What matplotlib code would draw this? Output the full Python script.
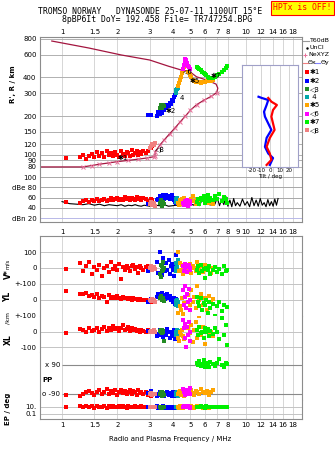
import matplotlib.pyplot as plt
from matplotlib.ticker import NullLocator

plt.rcParams['font.family'] = ['DejaVu Sans']
plt.rcParams['font.size'] = 5

W, H = 335, 451
F_LO, F_HI = 0.759, 20.25

# ---- axes ticks ----
freq_ticks = [1, 1.5, 2, 3, 4, 5, 6, 7, 8, 10, 12, 14, 16, 18]
mid_ticks = [1, 1.5, 2, 3, 4, 5, 6, 7, 8, 9, 10, 12, 14, 16, 18]
r_ticks = [80, 90, 100, 120, 150, 200, 300, 400, 600, 800]
db_ticks = [20, 40, 60, 80, 100]
db_labels = ['dBn 20', '40', '60', 'dBe 80', '100']
tilt_ticks = [-20, -10, 0, 10, 20]

# ---- plasma frequency profile (NeXYZ) ----
prof_f = [0.76, 1.30, 1.45, 1.6, 1.8, 2.0, 2.3, 2.6, 2.9, 3.15, 3.2, 3.22, 3.4, 3.6,
          3.85, 4.1, 4.4, 4.7, 5.0, 5.4, 5.9, 6.5, 6.95, 7.05, 6.9, 6.2, 5.4, 4.95,
          4.45, 3.8, 3.0, 2.1, 1.4, 0.88]
prof_h = [80, 80, 82, 84, 86, 88, 90, 92, 94, 96, 98, 105, 118, 130,
          145, 160, 180, 200, 222, 245, 265, 285, 305, 330, 355, 380, 405, 445,
          458, 490, 548, 600, 680, 771]

# ---- tilt profiles ----
tiltx_h = [277, 259, 244, 223, 198, 175, 156, 135, 115, 102, 91, 83]
tiltx = [-2.4, 1, 7, 2.8, 1, 2.8, 4.5, -0.7, -4.2, -0.7, 1, -4.2]
tilty_h = [283, 277, 267, 244, 216, 198, 175, 156, 135, 115, 102, 94, 83]
tilty = [-13, -9.5, -2.4, -4.2, -7, -6, -2.4, 1, -4.2, -6, -2.4, 2.8, -0.7]

# ---- noise level ----
noise_f = [1.0, 1.05, 1.1, 1.2, 1.3, 1.4, 1.5, 1.6, 1.7, 1.8,
           1.9, 2.0, 2.1, 2.2, 2.3, 2.4, 2.5, 2.6, 2.7, 2.8,
           2.9, 3.0, 3.2, 3.4, 3.6, 3.8, 4.0, 4.2, 4.4, 4.6,
           4.8, 5.0, 5.2, 5.4, 5.6, 5.8, 6.0, 6.2, 6.4, 6.6,
           6.8, 7.0, 7.2, 7.4, 7.6, 7.8, 8.0, 8.2, 8.4, 8.6,
           8.8, 9.0, 9.3, 9.6, 9.9, 10.2, 10.5, 10.8, 11.1, 11.4,
           11.7, 12.0, 12.3, 12.6, 12.9, 13.2, 13.5, 13.8, 14.1, 14.4,
           14.7, 15.0]
noise_db = [52, 50, 48, 47, 46, 48, 45, 47, 44, 46,
            45, 44, 46, 43, 45, 44, 46, 44, 43, 45,
            44, 43, 45, 44, 46, 43, 44, 45, 43, 46,
            44, 48, 45, 52, 44, 56, 46, 58, 45, 54,
            47, 60, 44, 56, 46, 62, 43, 55, 42, 58,
            44, 50, 43, 57, 45, 52, 42, 60, 44, 55,
            43, 58, 45, 50, 42, 56, 44, 52, 43, 57,
            45, 58]

# ---- echo classes: freq, height, amplitude, V*, YL, XL, PP, EP ----
red_f = [1.05, 1.25, 1.3, 1.35, 1.4, 1.45, 1.5, 1.55, 1.6, 1.65, 1.7, 1.75, 1.8, 1.85, 1.9, 1.95, 2.0, 2.05,
         2.1, 2.15, 2.2, 2.25, 2.3, 2.35, 2.4, 2.45, 2.5, 2.55, 2.6, 2.65, 2.7, 2.75, 2.85, 2.95, 3.05, 3.1]
red_h = [94, 95, 99, 93, 97, 101, 96, 104, 98, 102, 95, 106, 99, 103, 97, 105, 100, 96,
         107, 101, 98, 104, 102, 97, 108, 100, 103, 106, 99, 104, 101, 107, 103, 106, 112, 116]
red_a = [52, 50, 53, 55, 51, 56, 54, 57, 53, 55, 58, 54, 56, 59, 55, 57, 60, 56,
         58, 55, 61, 57, 59, 56, 60, 58, 55, 61, 57, 59, 56, 60, 58, 54, 57, 55]
red_v = [-5, 30, -20, 10, 40, -35, 5, -10, 20, -50, 0, 15, -25, 35, -5, 10, -15, 25,
         -70, 5, -10, 15, 0, -20, 10, 20, -5, 5, -30, 10, 0, -10, 5, 15, -5, 0]
red_yl = [58, 40, 35, 45, 25, 30, 20, 35, 15, 25, 20, -10, 30, 15, 20, 10, 25, 15,
          5, 20, 10, 15, 5, 10, 0, 12, 5, 8, 0, 5, 3, 0, 2, -5, -10, -5]
red_xl = [-10, 15, 10, -5, 20, 5, 10, 25, 0, 15, 30, 5, 20, 10, 35, 15, 25, 5,
          20, 40, 10, 15, 30, 5, 20, 10, 15, 5, 10, 0, 8, 5, 0, 10, -5, 0]
red_pp = [-95, -100, -90, -80, -70, -85, -95, -75, -65, -88, -78, -60, -90, -72, -82, -68, -95, -75,
          -62, -85, -70, -90, -78, -65, -88, -72, -80, -95, -68, -85, -75, -90, -80, -95, -100, -90]
red_ep = [12, 15, 8, 20, 10, 14, 6, 18, 9, 12, 25, 7, 15, 10, 20, 8, 12, 16,
          9, 14, 11, 7, 18, 10, 13, 8, 15, 10, 12, 9, 14, 11, 8, 12, 10, 9]

blue_f = [2.95, 3.05, 3.3, 3.35, 3.4, 3.45, 3.5, 3.55, 3.6, 3.65, 3.7, 3.75, 3.8, 3.85, 3.9, 3.95, 4.0, 4.05, 4.1, 4.15]
blue_h = [202, 205, 200, 215, 208, 220, 212, 228, 222, 235, 230, 245, 240, 255, 250, 265, 262, 280, 290, 300]
blue_a = [48, 50, 55, 58, 62, 56, 60, 64, 58, 62, 65, 60, 63, 57, 61, 64, 59, 55, 52, 50]
blue_v = [-20, 10, 40, -30, 100, 20, -45, 60, 0, -20, 30, -10, 50, -35, 10, 25, -15, -50, 5, 80]
blue_yl = [-10, 5, 20, 35, 10, 25, 45, 15, 30, 5, 20, 40, 10, 25, 0, 15, -15, 10, -25, 5]
blue_xl = [5, -5, -30, -15, 10, -20, 0, -35, 5, -10, -25, 15, -5, -40, 0, -15, -30, 10, -45, -10]
blue_pp = [-85, -70, -100, -90, -80, -95, -75, -88, -100, -82, -92, -78, -98, -85, -90, -105, -80, -95, -88, -100]
blue_ep = [12, 8, 15, 6, 10, 5, 9, 14, 7, 11, 4, 8, 12, 6, 9, 5, 10, 7, 13, 8]

g3_f = [3.42, 3.46, 3.5, 3.54, 3.58, 3.47, 3.52, 3.56]
g3_h = [232, 240, 236, 244, 238, 246, 230, 242]
g3_a = [50, 54, 46, 52, 48, 56, 44, 50]
g3_v = [-40, 20, -20, 40, 0, -55, 10, -10]
g3_yl = [10, 20, 5, 15, -5, 25, 0, 12]
g3_xl = [5, -5, 10, 0, -60, 8, -10, 2]
g3_pp = [-90, -80, -100, -85, -95, -88, -75, -92]
g3_ep = [8, 10, 6, 12, 9, 7, 11, 10]

t4_f = [4.15, 4.18, 4.2, 4.23, 4.26, 4.28]
t4_h = [300, 310, 318, 325, 332, 340]
t4_a = [55, 58, 52, 60, 56, 54]
t4_v = [0, 30, -20, 10, -10, 50]
t4_yl = [-20, -5, -30, 0, -40, -10]
t4_xl = [-10, 0, -20, 10, -30, 5]
t4_pp = [-90, -85, -95, -80, -100, -90]
t4_ep = [10, 8, 12, 9, 11, 7]

or_f = [4.3, 4.35, 4.4, 4.45, 4.5, 4.55, 4.6, 4.85, 4.95, 5.05, 5.15, 5.25, 5.35, 5.45, 5.55,
        5.7, 5.85, 6.0, 6.15, 6.3, 6.45, 6.6]
or_h = [345, 365, 385, 405, 430, 455, 480, 445, 420, 400, 385, 378, 372, 368, 370,
        365, 368, 372, 375, 380, 378, 385]
or_a = [50, 45, 55, 48, 58, 52, 60, 55, 50, 58, 62, 54, 48, 57, 52, 60, 56, 62, 58, 50, 54, 48]
or_v = [100, -20, 30, -10, 20, -40, 10, -5, 25, -30, 15, 0, -20, 35, -10, 10, -25, 20, -15, 5, -30, 0]
or_yl = [-80, -110, -40, -60, 10, -90, -20, 30, -30, 60, -10, 20, -50, 85, 0, 40, -30, 15, -60, 25, -10, 5]
or_xl = [-40, -60, 0, -20, 10, -30, -50, 20, -10, 40, -70, 10, 60, -40, 100, -20, 30, -80, 15, -5, 0, -30]
or_pp = [-90, -80, -70, -95, -85, -60, -100, -75, -90, -65, -85, -95, -70, -80, -90, -60, -75, -85, -70, -95, -80, -65]
or_ep = [10, 6, 15, 8, 12, 5, 20, 9, 7, 14, 10, 6, 11, 18, 8, 12, 5, 9, 13, 7, 10, 8]

mg_f = [4.55, 4.6, 4.65, 4.7, 4.75, 4.8, 4.85, 4.9, 4.95, 5.0]
mg_h = [470, 500, 530, 555, 545, 520, 495, 480, 470, 465]
mg_a = [50, 46, 54, 48, 52, 56, 44, 50, 53, 47]
mg_v = [10, -20, 25, -5, 15, -25, 5, 20, -10, 0]
mg_yl = [60, -30, 90, 20, -50, 40, -10, 70, 0, -60]
mg_xl = [75, 20, -40, 50, -100, 30, -20, 60, 0, -60]
mg_pp = [-60, -80, -95, -70, -85, -65, -90, -75, -55, -88]
mg_ep = [10, 15, 8, 12, 20, 9, 14, 11, 7, 13]

g7_f = [5.4, 5.5, 5.6, 5.7, 5.8, 5.9, 6.0, 6.1, 6.2, 6.3, 6.4, 6.6, 6.8, 7.0, 7.2, 7.4, 7.6, 7.8, 7.9]
g7_h = [480, 475, 465, 455, 445, 435, 425, 415, 405, 398, 395, 398, 405, 415, 425, 440, 455, 475, 490]
g7_a = [52, 58, 48, 60, 55, 62, 50, 57, 64, 53, 60, 56, 63, 58, 66, 54, 61, 57, 50]
g7_v = [-10, 10, -30, 20, -20, -5, -60, 0, -15, 15, -35, -10, 5, -25, -5, -40, 10, -20, -15]
g7_yl = [20, -10, -40, 10, -60, -20, -30, 0, -80, -15, -50, -25, -100, -40, -10, -70, -30, -120, -45]
g7_xl = [10, -20, 30, -10, 0, -40, 20, -5, 15, -30, 5, -15, 25, 0, -50, 90, -20, 40, -90]
g7_pp = [100, 90, 115, 85, 95, 120, 80, 105, 90, 75, 110, 95, 85, 100, 125, 90, 80, 105, 95]
g7_ep = [10, 12, 8, 15, 9, 11, 7, 14, 10, 8, 12, 9, 13, 10, 8, 11, 9, 12, 10]

p8_f = [3.0, 3.05, 3.1, 3.15, 3.2]
p8_h = [112, 116, 120, 118, 122]
p8_a = [48, 52, 46, 50, 44]
p8_v = [0, 10, -10, 5, -5]
p8_yl = [0, -5, 5, 0, -10]
p8_xl = [0, 5, -5, 10, 0]
p8_pp = [-90, -85, -95, -88, -92]
p8_ep = [10, 8, 12, 9, 11]

classes = [
    ('✱1', '#ff0000', red_f, red_h, red_a, red_v, red_yl, red_xl, red_pp, red_ep),
    ('✱2', '#0000ff', blue_f, blue_h, blue_a, blue_v, blue_yl, blue_xl, blue_pp, blue_ep),
    ('◁3', '#238b23', g3_f, g3_h, g3_a, g3_v, g3_yl, g3_xl, g3_pp, g3_ep),
    (' 4', '#00a8a8', t4_f, t4_h, t4_a, t4_v, t4_yl, t4_xl, t4_pp, t4_ep),
    ('✱5', '#ffa500', or_f, or_h, or_a, or_v, or_yl, or_xl, or_pp, or_ep),
    ('◁6', '#ff00ff', mg_f, mg_h, mg_a, mg_v, mg_yl, mg_xl, mg_pp, mg_ep),
    ('✱7', '#00f000', g7_f, g7_h, g7_a, g7_v, g7_yl, g7_xl, g7_pp, g7_ep),
    ('◁8', '#f08080', p8_f, p8_h, p8_a, p8_v, p8_yl, p8_xl, p8_pp, p8_ep),
]

main_tags = [('✱1', 2.15, 94), ('✱2', 3.9, 218), ('4', 4.5, 278), ('✱5', 5.3, 375),
             ('◁6', 4.85, 450), ('✱7', 6.9, 410), ('◁8', 3.42, 110)]


def px(x0, y0, x1, y1):
    return [x0 / W, 1 - y1 / H, (x1 - x0) / W, (y1 - y0) / H]


def freq_axis(ax, ticks):
    ax.set_xscale('log')
    ax.set_xlim(F_LO, F_HI)
    ax.set_xticks(ticks)
    ax.set_xticklabels([f'{t:g}' for t in ticks])
    ax.xaxis.set_minor_locator(NullLocator())
    for t in freq_ticks:
        ax.axvline(t, color='#d6d6d6', lw=0.7, zorder=0)
    for s in ax.spines.values():
        s.set_color('#8c8c8c')
        s.set_linewidth(0.8)
    ax.tick_params(length=0, labelsize=5)


fig = plt.figure(figsize=(W / 100, H / 100), dpi=100)

# ---- main height panel ----
ax = fig.add_axes(px(40, 37, 302, 170))
freq_axis(ax, freq_ticks)
ax.set_yscale('log')
ax.set_ylim(75.7, 829)
ax.set_yticks(r_ticks)
ax.set_yticklabels([str(r) for r in r_ticks])
ax.yaxis.set_minor_locator(NullLocator())
for r in r_ticks:
    ax.axhline(r, color='#b0b0b0', lw=0.7, zorder=0)
ax.tick_params(axis='x', top=True, labeltop=True, bottom=False, labelbottom=False, pad=1.5)
ax.tick_params(axis='y', pad=2.5)
ax.spines['bottom'].set_visible(False)

ax.plot(prof_f, prof_h, color='#a3153f', lw=0.9, zorder=2)
ax.plot(prof_f[1:23], prof_h[1:23], ls='none', marker='x', ms=2.5, mew=0.7,
        color='#e8709a', zorder=3)
for tag, col, f, h, a, v, yl, xl, pp, ep in classes:
    ax.scatter(f, h, s=5 if tag == '✱1' else 10, marker='s', color=col, lw=0, zorder=4)
for tag, f, h in main_tags:
    ax.text(f, h, tag, ha='center', va='center', fontsize=5, zorder=5)

# ---- amplitude panel ----
ax_db = fig.add_axes(px(40, 170, 302, 222))
freq_axis(ax_db, mid_ticks)
ax_db.set_ylim(12.2, 113.7)
ax_db.set_yticks(db_ticks)
ax_db.set_yticklabels(db_labels)
for d in db_ticks:
    ax_db.axhline(d, color='#b8b8e8' if d == 20 else '#a8a8a8', lw=0.7, zorder=0)
ax_db.spines['top'].set_visible(False)
ax_db.tick_params(axis='x', pad=5)
ax_db.tick_params(axis='y', pad=2.5)
ax_db.plot(noise_f, noise_db, color='black', lw=0.8, zorder=2)
for tag, col, f, h, a, v, yl, xl, pp, ep in classes:
    ax_db.scatter(f, a, s=5, marker='s', color=col, lw=0, zorder=3)

# ---- tilt inset ----
ax_t = fig.add_axes(px(242, 65, 298, 167))
ax_t.set_facecolor('white')
ax_t.set_xlim(-31, 30)
ax_t.set_yscale('log')
ax_t.set_ylim(80, 501)
ax_t.yaxis.set_major_locator(NullLocator())
ax_t.yaxis.set_minor_locator(NullLocator())
ax_t.set_xticks(tilt_ticks)
ax_t.set_xticklabels([str(t) for t in tilt_ticks])
for t in tilt_ticks:
    ax_t.axvline(t, color='#d4d4d4', lw=0.7, zorder=0)
for s in ax_t.spines.values():
    s.set_color('#a0a0c8')
    s.set_linewidth(0.8)
ax_t.tick_params(length=0, labelsize=4, pad=0.8)
ax_t.set_xlabel('Tilt / deg', fontsize=4, labelpad=0.5)
ax_t.plot(tilty, tilty_h, color='#0000ff', lw=1.6)
ax_t.plot(tiltx, tiltx_h, color='#ff0000', lw=1.6)

# ---- stacked lower panels ----
lower_specs = [
    ('v', 236, 284, (-100, 200), 'linear', [100, 0], ['100', '0']),
    ('yl', 284, 316, (-100, 100), 'linear', [100, 0, -100], ['+-100', '0', '+-100']),
    ('xl', 316, 352, (-132, 100), 'linear', [0, -100], ['0', '-100']),
    ('pp', 352, 400, (-127, 171), 'linear', [], []),
    ('ep', 400, 419, (0.0037, 1000), 'log', [10, 0.1], ['10.', '0.1']),
]
lower = {}
for key, y0, y1, lim, scale, ticks, labels in lower_specs:
    a = fig.add_axes(px(40, y0, 302, y1))
    freq_axis(a, freq_ticks)
    a.set_yscale(scale)
    a.set_ylim(*lim)
    a.set_yticks(ticks)
    a.set_yticklabels(labels)
    a.yaxis.set_minor_locator(NullLocator())
    a.tick_params(axis='y', pad=2.5)
    a.tick_params(axis='x', labelbottom=(key == 'ep'), pad=2)
    if key != 'v':
        a.spines['top'].set_visible(False)
    if key != 'ep':
        a.spines['bottom'].set_visible(False)
    for t in ticks:
        a.axhline(t, color='#c4c4c4', lw=0.7, zorder=0)
    lower[key] = a

ax_pp = lower['pp']
ax_pp.hlines([90, -90], 1.0, F_HI, color='#8a8a8a', lw=0.8, zorder=1)
ax_pp.text(0.975, 90, 'x 90', ha='right', va='center', fontsize=5)
ax_pp.text(0.975, -90, 'o -90', ha='right', va='center', fontsize=5)
ax_pp.text(0.785, -3, 'PP', ha='left', va='center', fontsize=5, fontweight='bold')

for tag, col, f, h, amp, v, yl, xl, pp, ep in classes:
    for key, vals in zip(['v', 'yl', 'xl', 'pp', 'ep'], [v, yl, xl, pp, ep]):
        lower[key].scatter(f, vals, s=5, marker='s', color=col, lw=0, zorder=3)

# ---- overlay: titles, labels, legend ----
ov = fig.add_axes([0, 0, 1, 1])
ov.set_xlim(0, W)
ov.set_ylim(H, 0)
ov.axis('off')

ov.text(150, 12, 'TROMSO NORWAY   DYNASONDE 25-07-11 1100UT 15°E', ha='center', va='center',
        family='DejaVu Sans Mono', fontsize=5.9)
ov.text(157.5, 20, '8pBP6It DoY= 192.458 File= TR747254.BPG', ha='center', va='center',
        family='DejaVu Sans Mono', fontsize=5.9)
ov.text(302.5, 8, 'HPTx is OFF!', ha='center', va='center', family='DejaVu Sans Mono',
        fontsize=5.9, color='#ff0000',
        bbox=dict(boxstyle='square,pad=0.3', facecolor='#ffff00', edgecolor='#ff0000', lw=0.8))

ov.text(13, 84, "R', R / km", rotation=90, ha='center', va='center', fontsize=5, fontweight='bold')
ov.text(8, 274, 'V*', rotation=90, ha='center', va='center', fontsize=5.5, fontweight='bold')
ov.text(8, 264, 'm/s', rotation=90, ha='center', va='center', fontsize=4)
ov.text(8, 297, 'YL', rotation=90, ha='center', va='center', fontsize=5.5, fontweight='bold')
ov.text(8, 318, '/km', rotation=90, ha='center', va='center', fontsize=4.5)
ov.text(8, 340, 'XL', rotation=90, ha='center', va='center', fontsize=5.5, fontweight='bold')
ov.text(8, 409, 'EP / deg', rotation=90, ha='center', va='center', fontsize=5, fontweight='bold')
ov.text(170, 439, 'Radio and Plasma Frequency / MHz', ha='center', va='center', fontsize=5)

ov.plot([303, 309], [41, 41], color='#999999', lw=0.8)
ov.text(310, 41, 'T60dB', va='center', fontsize=4.5)
ov.plot([307], [47.5], marker='.', ms=1.5, color='black')
ov.text(310, 47.5, 'UnCl', va='center', fontsize=4.5)
ov.plot([305], [54.5], marker='+', ms=3, mew=0.7, color='#e8709a')
ov.text(308.5, 54.5, 'NeXYZ', va='center', fontsize=4.5)
ov.plot([303, 307.5], [62.5, 62.5], color='#f08080', lw=0.8)
ov.text(308, 62.5, 'Θx', va='center', fontsize=4.5)
ov.plot([315, 320], [62.5, 62.5], color='#8080ff', lw=0.8)
ov.text(320.5, 62.5, 'Θy', va='center', fontsize=4.5)
for i, (tag, col, *rest) in enumerate(classes):
    y = 72.3 + i * 8.25
    ov.scatter([306.5], [y], marker='s', s=6, color=col, lw=0)
    ov.text(310, y, tag, va='center', fontsize=5)

fig.savefig('out.png', dpi=100)
